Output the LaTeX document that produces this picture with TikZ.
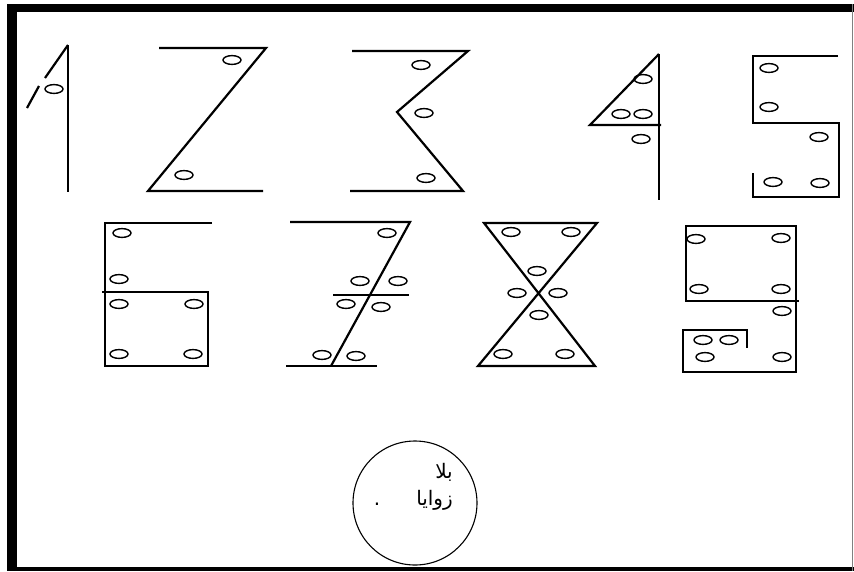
\documentclass[tikz,border=0pt]{standalone}
\usepackage{fontspec}
\newfontfamily\arabicfont[Script=Arabic]{DejaVu Sans}
\TeXXeTstate=1
\usetikzlibrary{positioning}

\begin{document}
\begin{tikzpicture}[x=1pt, y=-1pt,
    stroke/.style={line width=2.2pt, black},
    hole/.style={line width=1.4pt, black},
    badge/.style={draw, circle, line width=1.1pt, minimum size=124pt, inner sep=0pt},
    caption/.style={align=right, inner sep=0pt, font=\arabicfont\fontsize{20}{27}\selectfont}
]
\useasboundingbox (0,0) rectangle (854,571);

% Frame
\fill (7,4) rectangle (854,11.5);
\fill (7,4) rectangle (17,571);
\fill (7,567) rectangle (854,571);
\draw[gray, line width=1pt] (852.5,4) -- (852.5,571);

% Digit 1
\draw[stroke] (68,45) -- (68,192);
\draw[stroke] (68,45) -- (45,78);
\draw[stroke] (39,86) -- (27,108);

% Digit 2
\draw[stroke] (159,48) -- (266,48) -- (148,191) -- (263,191);

% Digit 3
\draw[stroke] (352,51) -- (468,51) -- (397,112) -- (463,191) -- (350,191);

% Digit 4
\draw[stroke] (659,54) -- (659,200);
\draw[stroke] (659,54) -- (590,125) -- (661,125);

% Digit 5
\draw[stroke] (838,56) -- (753,56) -- (753,123) -- (839,123) -- (839,197) -- (753,197) -- (753,173);

% Digit 6
\draw[stroke] (212,223) -- (105,223) -- (105,366) -- (208,366) -- (208,292) -- (102,292);

% Digit 7
\draw[stroke] (290,222) -- (410,222) -- (331,366);
\draw[stroke] (286,366) -- (377,366);
\draw[stroke] (333,295) -- (409,295);

% Digit 8
\draw[stroke] (484,223) -- (597,223) -- (478,366) -- (595,366) -- cycle;

% Digit 9
\draw[stroke] (799,301) -- (686,301) -- (686,226) -- (796,226) -- (796,372) -- (683,372) -- (683,330) -- (747,330) -- (747,348);

% Holes
\foreach \x/\y in {54/89, 232/60, 184/175, 421/65, 424/113, 426/178,
    643/79, 621/114, 643/114, 641/139,
    769/68, 769/107, 819/137, 773/182, 820/183,
    122/233, 119/279, 119/304, 194/304, 119/354, 193/354,
    387/233, 360/281, 398/281, 346/304, 381/307, 322/355, 356/356,
    511/232, 571/232, 537/271, 517/293, 558/293, 539/315, 503/354, 565/354,
    696/239, 781/238, 699/289, 781/289, 782/311, 703/340, 729/340, 705/357, 782/357} {
    \draw[hole] (\x,\y) ellipse [x radius=9pt, y radius=4.4pt];
}

% Label
\node[badge] (badge) at (415,503) {};
\node[caption, anchor=east] (caption) at (453,487) {\beginR بلا\endR\\\beginR زوايا\hspace{36pt}.\endR};

\end{tikzpicture}
\end{document}
